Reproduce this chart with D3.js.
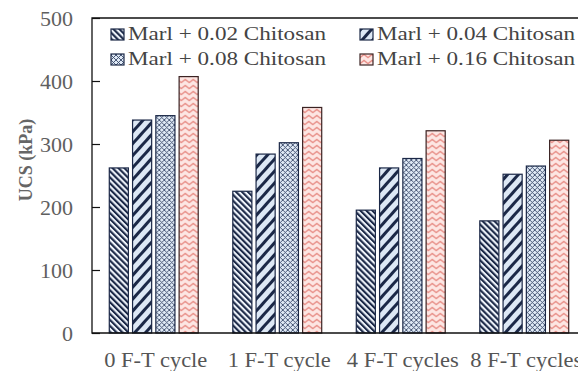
<!DOCTYPE html>
<html>
<head>
<meta charset="utf-8">
<script src="https://cdn.jsdelivr.net/npm/d3@7"></script>
<style>
  body { margin: 0; background: #fff; }
</style>
</head>
<body>
<div id="chart"></div>
<script>
// data
var cycles = ["0 F-T cycle", "1 F-T cycle", "4 F-T cycles", "8 F-T cycles"];
var series = ["Marl + 0.02 Chitosan", "Marl + 0.04 Chitosan", "Marl + 0.08 Chitosan", "Marl + 0.16 Chitosan"];
var ucs002 = [262, 225, 195, 178];
var ucs004 = [338, 284, 262, 252];
var ucs008 = [345, 302, 277, 265];
var ucs016 = [407, 358, 321, 306];
var yTicks = [0, 100, 200, 300, 400, 500];

var values = [ucs002, ucs004, ucs008, ucs016];

var width = 578, height = 371;
var margin = {top: 18, right: -8, bottom: 38, left: 92};
var serif = "'Liberation Serif', 'Times New Roman', 'DejaVu Serif', serif";

var svg = d3.select("#chart").append("svg")
    .attr("width", width).attr("height", height)
    .attr("font-family", serif)
    .style("font-family", serif);

// hatch patterns
var defs = svg.append("defs");
var navy = "#1b2847";

var p1 = defs.append("pattern").attr("id", "p1").attr("patternUnits", "userSpaceOnUse")
    .attr("width", 4.2).attr("height", 4.2).attr("patternTransform", "rotate(-45)");
p1.append("rect").attr("width", 4.2).attr("height", 4.2).attr("fill", "#eef3fa");
p1.append("rect").attr("width", 2.1).attr("height", 4.2).attr("fill", navy);

var p2 = defs.append("pattern").attr("id", "p2").attr("patternUnits", "userSpaceOnUse")
    .attr("width", 8).attr("height", 8).attr("patternTransform", "rotate(42)");
p2.append("rect").attr("width", 8).attr("height", 8).attr("fill", "#dde8f5");
p2.append("rect").attr("width", 3).attr("height", 8).attr("fill", navy);

var p3 = defs.append("pattern").attr("id", "p3").attr("patternUnits", "userSpaceOnUse")
    .attr("width", 5).attr("height", 5);
p3.append("rect").attr("width", 5).attr("height", 5).attr("fill", "#dfe9f5");
p3.append("path").attr("d", "M0,0L5,5M5,0L0,5").attr("stroke", "#3a4a6a").attr("stroke-width", 0.9);

var p4 = defs.append("pattern").attr("id", "p4").attr("patternUnits", "userSpaceOnUse")
    .attr("width", 8).attr("height", 6);
p4.append("rect").attr("width", 8).attr("height", 6).attr("fill", "#fde6e3");
p4.append("path").attr("d", "M-0.5,5L4,1.5L8.5,5").attr("fill", "none")
    .attr("stroke", "#e8918a").attr("stroke-width", 1.4);

var fills = ["url(#p1)", "url(#p2)", "url(#p3)", "url(#p4)"];
var strokes = [navy, navy, "#1b2847", "#3b2323"];

var x0 = d3.scaleBand().domain(cycles)
    .range([margin.left, width - margin.right])
    .paddingInner(0.28).paddingOuter(0.14);
var x1 = d3.scaleBand().domain(d3.range(series.length))
    .range([0, x0.bandwidth()])
    .paddingInner(0.18).paddingOuter(0);
var y = d3.scaleLinear().domain([0, 500]).range([height - margin.bottom, margin.top]);

// bars
var groups = svg.selectAll("g.cycle").data(cycles).enter().append("g")
    .attr("class", "cycle")
    .attr("transform", function(d) { return "translate(" + x0(d) + ",0)"; });

groups.selectAll("rect").data(function(d, i) {
      return values.map(function(v, s) { return {s: s, v: v[i]}; });
    }).enter().append("rect")
    .attr("x", function(d) { return x1(d.s); })
    .attr("y", function(d) { return y(d.v); })
    .attr("width", x1.bandwidth())
    .attr("height", function(d) { return y(0) - y(d.v); })
    .attr("fill", function(d) { return fills[d.s]; })
    .attr("stroke", function(d) { return strokes[d.s]; })
    .attr("stroke-width", 1.2);

// frame: top, left and bottom lines
svg.append("path")
    .attr("d", "M" + width + "," + y(500) + "H" + margin.left + "V" + y(0) + "H" + width)
    .attr("fill", "none").attr("stroke", "#111").attr("stroke-width", 1.3);

// y axis, ticks pointing inward
var yAxis = svg.append("g")
    .attr("transform", "translate(" + margin.left + ",0)")
    .call(d3.axisRight(y).tickValues(yTicks).tickSize(8).tickFormat(""));
yAxis.select(".domain").remove();
yAxis.selectAll("line").attr("stroke", "#111").attr("stroke-width", 1.2);

svg.append("g").selectAll("text").data(yTicks).enter().append("text")
    .attr("x", 73)
    .attr("y", function(d) { return y(d); })
    .attr("dy", "0.36em")
    .attr("text-anchor", "end")
    .attr("font-size", 22)
    .attr("fill", "#5f5f5f")
    .text(function(d) { return d; });

svg.append("text")
    .attr("transform", "translate(32,160) rotate(-90)")
    .attr("text-anchor", "middle")
    .attr("font-size", 18)
    .attr("font-weight", "bold")
    .attr("fill", "#666")
    .text("UCS (kPa)");

// x labels, a little wider than the font gives, as in the picture
svg.append("g").selectAll("text").data(cycles).enter().append("text")
    .attr("x", function(d) { return x0(d) + x0.bandwidth() / 2 + 2; })
    .attr("y", 367)
    .attr("text-anchor", "middle")
    .attr("font-size", 21)
    .attr("fill", "#555")
    .text(function(d) { return d; })
    .each(function() {
      var w = this.getComputedTextLength();
      d3.select(this).attr("textLength", w * 1.07).attr("lengthAdjust", "spacingAndGlyphs");
    });

// legend
var legX = [111, 360], legY = [40, 65];
var leg = svg.append("g").selectAll("g").data(series).enter().append("g")
    .attr("transform", function(d, i) {
      return "translate(" + legX[i % 2] + "," + legY[Math.floor(i / 2)] + ")";
    });
leg.append("rect")
    .attr("x", 0).attr("y", -11).attr("width", 13).attr("height", 11)
    .attr("fill", function(d, i) { return fills[i]; })
    .attr("stroke", function(d, i) { return strokes[i]; })
    .attr("stroke-width", 1.2);
leg.append("text")
    .attr("x", 17).attr("y", 0)
    .attr("font-size", 18)
    .attr("fill", "#444")
    .attr("textLength", 198)
    .attr("lengthAdjust", "spacingAndGlyphs")
    .text(function(d) { return d; });
</script>
</body>
</html>
